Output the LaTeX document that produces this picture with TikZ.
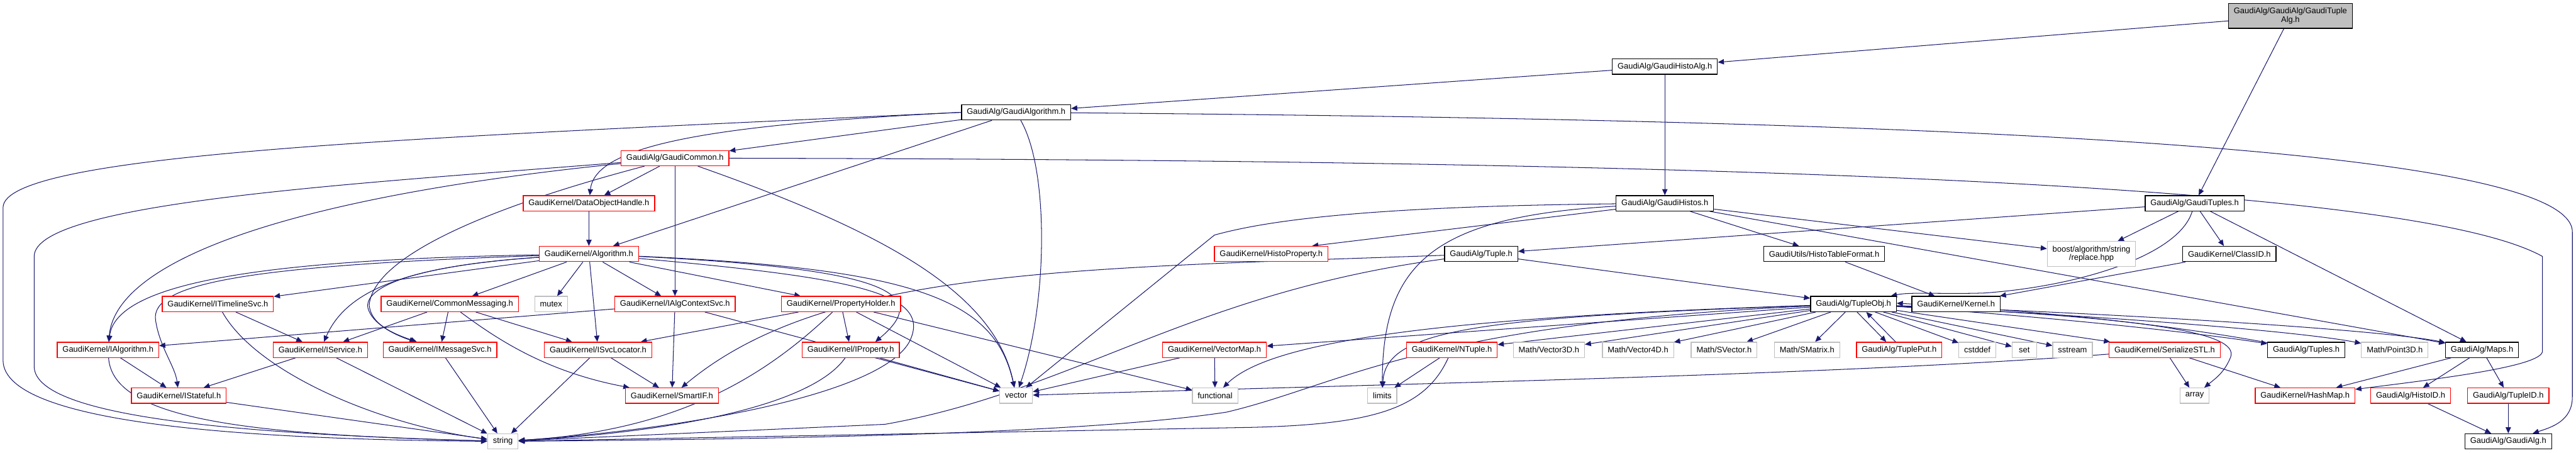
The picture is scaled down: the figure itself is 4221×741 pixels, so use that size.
\documentclass[tikz,border=0pt]{standalone}
\usepackage{fontspec}
\setmainfont{Liberation Sans}
\usetikzlibrary{arrows.meta}
\definecolor{edgeblue}{HTML}{191970}
\definecolor{extgrey}{HTML}{BFBFBF}
\pgfdeclarelayer{back}
\pgfsetlayers{back,main}

\begin{document}
\begin{tikzpicture}[x=0.75pt,y=-0.75pt,>={Triangle[length=7.5pt,width=6.5pt]},
  file/.style={draw=black,fill=white,line width=1pt,minimum height=18.75pt,minimum width=30pt,
    inner xsep=6.5pt,inner ysep=0pt,font=\fontsize{10}{10.5}\selectfont},
  trunc/.style={file,draw=red},
  ext/.style={file,draw=extgrey},
  rootfile/.style={file,fill=extgrey,align=center,minimum height=30.75pt},
  dep/.style={->,draw=edgeblue,line width=0.8pt}]
\useasboundingbox (0,0) rectangle (4221,741);

\node[rootfile] (tuplealg) at (3753,26) {GaudiAlg/GaudiAlg/GaudiTuple\\Alg.h};
\node[file] (histoalg) at (2728,109) {GaudiAlg/GaudiHistoAlg.h};
\node[file] (galgorithm) at (1665,184) {GaudiAlg/GaudiAlgorithm.h};
\node[trunc] (gcommon) at (1106,259) {GaudiAlg/GaudiCommon.h};
\node[trunc] (dohandle) at (965,333) {GaudiKernel/DataObjectHandle.h};
\node[file] (ghistos) at (2728,333) {GaudiAlg/GaudiHistos.h};
\node[file] (gtuples) at (3596,333) {GaudiAlg/GaudiTuples.h};
\node[trunc] (algorithm) at (965,416) {GaudiKernel/Algorithm.h};
\node[trunc] (histoprop) at (2083,416) {GaudiKernel/HistoProperty.h};
\node[file] (tuple) at (2427,416) {GaudiAlg/Tuple.h};
\node[file] (htformat) at (2989,416) {GaudiUtils/HistoTableFormat.h};
\node[ext,align=center,minimum height=30.75pt] (replace) at (3427,416) {boost/algorithm/string\\/replace.hpp};
\node[file] (classid) at (3653,416) {GaudiKernel/ClassID.h};
\node[trunc] (timeline) at (357,498) {GaudiKernel/ITimelineSvc.h};
\node[trunc] (commsg) at (737,498) {GaudiKernel/CommonMessaging.h};
\node[ext] (mutex) at (903,498) {mutex};
\node[trunc] (algctx) at (1106,498) {GaudiKernel/IAlgContextSvc.h};
\node[trunc] (propholder) at (1378,498) {GaudiKernel/PropertyHolder.h};
\node[file] (tupleobj) at (3037,498) {GaudiAlg/TupleObj.h};
\node[file] (kernel) at (3205,498) {GaudiKernel/Kernel.h};
\node[trunc] (ialg) at (177,573) {GaudiKernel/IAlgorithm.h};
\node[trunc] (iservice) at (525,573) {GaudiKernel/IService.h};
\node[trunc] (imsg) at (721,573) {GaudiKernel/IMessageSvc.h};
\node[trunc] (isvcloc) at (980,573) {GaudiKernel/ISvcLocator.h};
\node[trunc] (iprop) at (1394,573) {GaudiKernel/IProperty.h};
\node[trunc] (vectormap) at (1990,573) {GaudiKernel/VectorMap.h};
\node[trunc] (ntuple) at (2379,573) {GaudiKernel/NTuple.h};
\node[ext] (vec3d) at (2538,573) {Math/Vector3D.h};
\node[ext] (vec4d) at (2684,573) {Math/Vector4D.h};
\node[ext] (svector) at (2825,573) {Math/SVector.h};
\node[ext] (smatrix) at (2961,573) {Math/SMatrix.h};
\node[trunc] (tupleput) at (3112,573) {GaudiAlg/TuplePut.h};
\node[ext] (cstddef) at (3240,573) {cstddef};
\node[ext] (stdset) at (3317,573) {set};
\node[ext] (sstream) at (3396,573) {sstream};
\node[trunc] (serial) at (3547,573) {GaudiKernel/SerializeSTL.h};
\node[file] (tuples) at (3779,573) {GaudiAlg/Tuples.h};
\node[ext] (point3d) at (3924,573) {Math/Point3D.h};
\node[file] (maps) at (4067,573) {GaudiAlg/Maps.h};
\node[trunc] (istateful) at (293,648) {GaudiKernel/IStateful.h};
\node[trunc] (smartif) at (1101,648) {GaudiKernel/SmartIF.h};
\node[ext] (vector) at (1665,648) {vector};
\node[ext] (functional) at (1991,648) {functional};
\node[ext] (limits) at (2265,648) {limits};
\node[ext] (array) at (3596,648) {array};
\node[trunc] (hashmap) at (3777,648) {GaudiKernel/HashMap.h};
\node[trunc] (histoid) at (3950,648) {GaudiAlg/HistoID.h};
\node[trunc] (tupleid) at (4110,648) {GaudiAlg/TupleID.h};
\node[ext] (string) at (824,723) {string};
\node[file] (gaudialg) at (4110,723) {GaudiAlg/GaudiAlg.h};

\begin{pgfonlayer}{back}
% top of the graph
\draw[dep] (tuplealg) -- (histoalg);
\draw[dep] (tuplealg) -- (gtuples);
\draw[dep] (histoalg) -- (galgorithm);
\draw[dep] (histoalg) -- (ghistos);
\draw[dep] (galgorithm) -- (gcommon);
\draw[dep] (galgorithm.west) .. controls (1150,205) and (975,240) .. (dohandle);
\draw[dep] (galgorithm.west) .. controls (700,225) and (5,250) .. (5,340) -- (5,590) .. controls (5,700) and (450,720) .. (string);
\draw[dep] (galgorithm) -- (algorithm);
\draw[dep] (galgorithm) .. controls (1720,280) and (1716,500) .. (vector);
\draw[dep] (galgorithm) .. controls (3000,195) and (4215,230) .. (4215,380) -- (4215,650) .. controls (4215,690) and (4180,700) .. (gaudialg);
\draw[dep] (gcommon) .. controls (600,300) and (56,330) .. (56,420) -- (56,600) .. controls (56,690) and (450,712) .. (string);
\draw[dep] (gcommon) .. controls (500,320) and (190,420) .. (ialg);
\draw[dep] (gcommon) .. controls (760,350) and (610,430) .. (605,500) .. controls (608,530) and (640,545) .. (imsg);
\draw[dep] (gcommon) -- (dohandle);
\draw[dep] (gcommon) -- (algctx);
\draw[dep] (gcommon) .. controls (1450,380) and (1630,480) .. (vector);
\draw[dep] (gcommon) .. controls (2800,262) and (3950,300) .. (4166,420) -- (4166,575) .. controls (4166,600) and (4000,620) .. (hashmap);
\draw[dep] (dohandle) -- (algorithm);
\draw[dep] (ghistos) .. controls (2250,338) and (2080,360) .. (1990,385) -- (vector);
\draw[dep] (ghistos) -- ([xshift=-20pt]histoprop.north east);
\draw[dep] (ghistos) .. controls (2350,355) and (2265,430) .. (limits);
\draw[dep] (ghistos) -- (htformat);
\draw[dep] (ghistos) -- (replace);
\draw[dep] (ghistos) -- (maps);
\draw[dep] (gtuples) -- (tuple);
\draw[dep] (gtuples) -- (replace);
\draw[dep] (gtuples) .. controls (3570,420) and (3400,470) .. (3250,480) .. controls (3180,482) and (3130,478) .. (tupleobj);
\draw[dep] (gtuples) -- (classid);
\draw[dep] (gtuples) -- (maps);
\draw[dep] (tuple) -- (tupleobj);
\draw[dep] (tuple) .. controls (1750,440) and (1350,440) .. (smartif);
\draw[dep] (tuple) .. controls (1950,480) and (1760,640) .. (1450,695) -- (string);
\draw[dep] (htformat) -- (kernel);
\draw[dep] (classid) -- (kernel);
% GaudiKernel/Algorithm.h
\draw[dep] (algorithm) -- (commsg);
\draw[dep] (algorithm) -- (mutex);
\draw[dep] (algorithm) -- (isvcloc);
\draw[dep] (algorithm) -- (algctx);
\draw[dep] (algorithm) -- (propholder);
\draw[dep] (algorithm) .. controls (1450,440) and (1530,480) .. ([xshift=-30pt]iprop.north east);
\draw[dep] (algorithm) .. controls (1500,440) and (1630,490) .. (vector);
\draw[dep] (algorithm) .. controls (1400,455) and (1530,480) .. (1490,560) .. controls (1440,650) and (1100,705) .. (string);
\draw[dep] (algorithm) .. controls (450,425) and (190,460) .. (ialg);
\draw[dep] (algorithm) .. controls (400,435) and (245,465) .. (255,525) .. controls (262,570) and (287,600) .. (istateful);
\draw[dep] (algorithm) -- (timeline);
\draw[dep] (algorithm) .. controls (680,435) and (570,470) .. (iservice);
\draw[dep] (algorithm) .. controls (680,435) and (595,470) .. (603,505) .. controls (610,530) and (645,548) .. (imsg);
\draw[dep] (commsg) -- (imsg);
\draw[dep] (commsg) -- (isvcloc);
\draw[dep] (commsg) .. controls (820,560) and (900,610) .. (smartif);
\draw[dep] (commsg) -- (iservice);
\draw[dep] (algctx) -- (ialg);
\draw[dep] (algctx) -- (smartif);
\draw[dep] (algctx) -- (vector);
\draw[dep] (propholder) -- (isvcloc);
\draw[dep] (propholder) -- (iprop);
\draw[dep] (propholder) .. controls (1260,610) and (1120,705) .. (string);
\draw[dep] (propholder) -- (vector);
\draw[dep] (propholder) -- (functional);
\draw[dep] (timeline) -- (iservice);
\draw[dep] (timeline) .. controls (420,610) and (620,695) .. (string);
\draw[dep] (ialg) -- (istateful);
\draw[dep] (ialg) .. controls (185,690) and (420,712) .. (string);
\draw[dep] (iservice) -- (istateful);
\draw[dep] (iservice) -- (string);
\draw[dep] (istateful) -- (string);
\draw[dep] (imsg) -- (string);
\draw[dep] (isvcloc) -- (string);
\draw[dep] (isvcloc) -- (smartif);
\draw[dep] (iprop) .. controls (1330,665) and (1100,708) .. (string);
\draw[dep] (iprop) -- (vector);
\draw[dep] (vectormap) -- (vector);
\draw[dep] (vectormap) -- (functional);
\draw[dep] (ntuple) -- (limits);
\draw[dep] (ntuple) .. controls (2335,670) and (2250,695) .. (2050,700) -- (string);
% GaudiAlg/TupleObj.h
\draw[dep] (tupleobj) -- (vectormap);
\draw[dep] (tupleobj) .. controls (2350,520) and (2080,560) .. (functional);
\draw[dep] (tupleobj) .. controls (2420,520) and (2270,540) .. (limits);
\draw[dep] (tupleobj) .. controls (2330,530) and (2200,630) .. (2010,675) .. controls (1750,715) and (1150,720) .. (string);
\draw[dep] (tupleobj) -- (ntuple);
\draw[dep] (tupleobj) -- (vec3d);
\draw[dep] (tupleobj) -- (vec4d);
\draw[dep] (tupleobj) -- (svector);
\draw[dep] (tupleobj) -- (smatrix);
\draw[dep] ([xshift=4.5pt]tupleobj.south) -- ([xshift=-16pt]tupleput.north);
\draw[dep] ([xshift=-4.5pt]tupleput.north) -- ([xshift=15.75pt]tupleobj.south);
\draw[dep] (tupleobj) -- (cstddef);
\draw[dep] (tupleobj) -- (stdset);
\draw[dep] (tupleobj) -- (sstream);
\draw[dep] (tupleobj) -- (serial);
\draw[dep] ([yshift=-3pt]tupleobj.east) .. controls (3400,522) and (3620,548) .. (tuples);
\draw[dep] (tuples) .. controls (3600,540) and (3400,512) .. ([yshift=1pt]tupleobj.east);
\draw[dep] (tupleobj) .. controls (3500,520) and (3780,545) .. (point3d);
\draw[dep] (tupleobj) .. controls (3500,515) and (3900,540) .. (maps);
\draw[dep] (tupleobj) .. controls (3520,520) and (3670,545) .. (3655,585) .. controls (3645,610) and (3630,620) .. (array);
\draw[dep] (serial) -- (array);
\draw[dep] (serial) -- (hashmap);
\draw[dep] (serial) .. controls (3000,615) and (2300,628) .. (vector);
\draw[dep] (maps) -- (hashmap);
\draw[dep] (maps) -- (histoid);
\draw[dep] (maps) -- (tupleid);
\draw[dep] (histoid) -- (gaudialg);
\draw[dep] (tupleid) -- (gaudialg);
\end{pgfonlayer}
\end{tikzpicture}
\end{document}
